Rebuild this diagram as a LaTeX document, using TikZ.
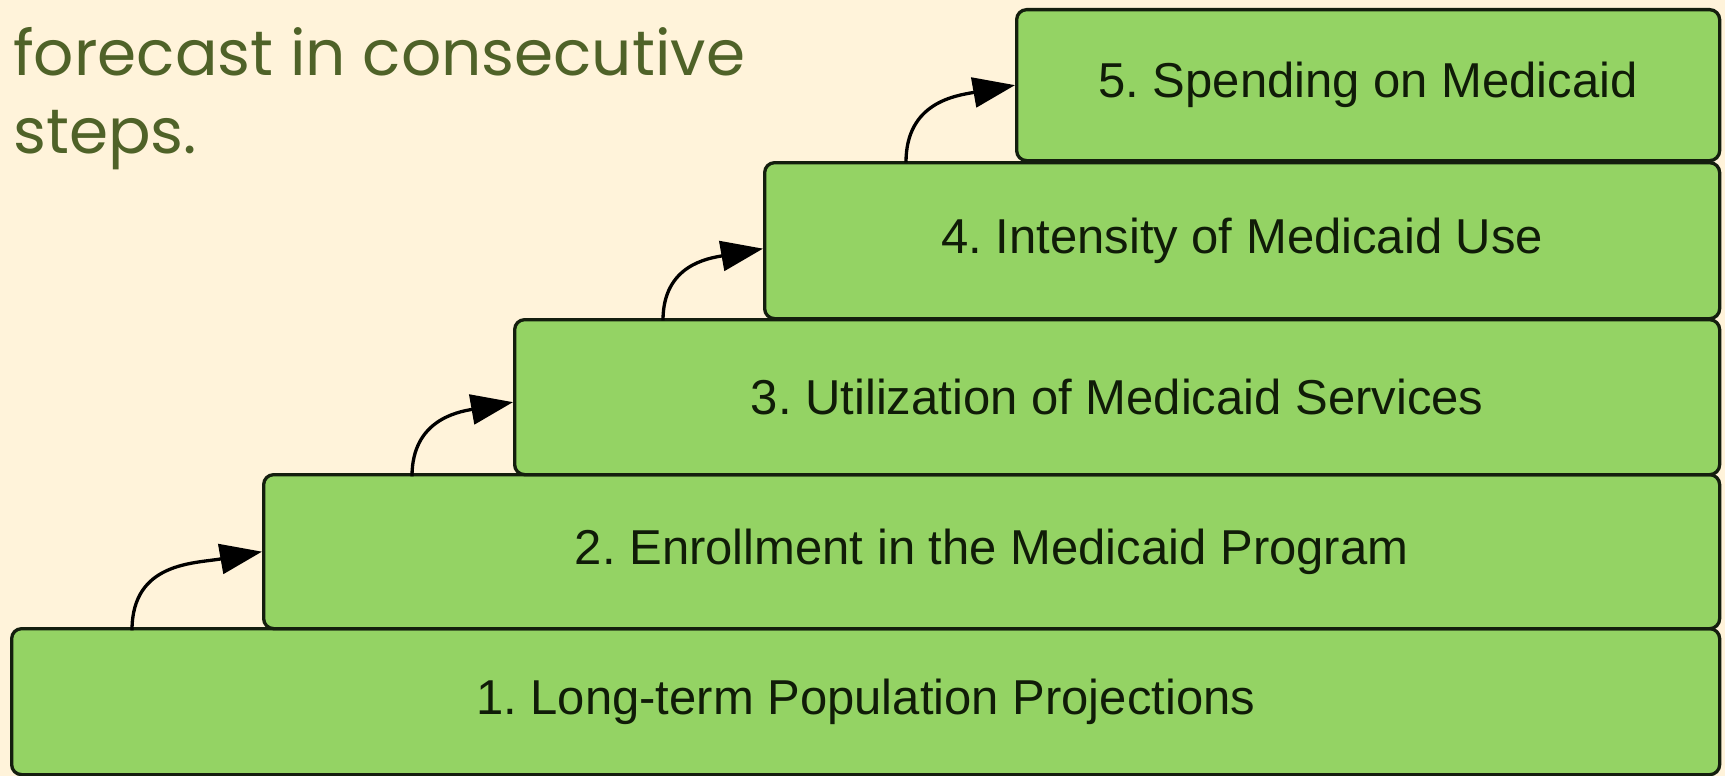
\documentclass[tikz,border=0pt]{standalone}
\usepackage{fontspec}
\setmainfont{Liberation Sans}
\newfontfamily\titlefont{Poppins}
\usetikzlibrary{arrows.meta}
\definecolor{bgcol}{RGB}{255,243,218}
\definecolor{boxfill}{RGB}{148,211,100}
\definecolor{boxline}{RGB}{20,30,14}
\definecolor{titlecol}{RGB}{79,98,40}
\definecolor{boxtext}{RGB}{16,28,8}
\frenchspacing
\tikzset{
  stepbox/.style={draw=boxline, fill=boxfill, line width=3.3pt, rounded corners=10pt,
    anchor=north west, inner sep=0pt, text=boxtext,
    font=\fontsize{49}{55}\selectfont},
  titletext/.style={anchor=base west, inner sep=0pt, text=titlecol,
    font=\titlefont\fontsize{63}{78}\selectfont},
  steparrow/.style={draw=black, line width=3.3pt, looseness=1.15,
    -{Triangle[length=42pt,width=30pt]}}
}
\begin{document}
\begin{tikzpicture}[x=1pt,y=-1pt]
\path[fill=bgcol] (0,0) rectangle (1725,776);
\useasboundingbox (0,0) rectangle (1725,776);
\node[titletext] (t1) at (13,75) {forecast in consecutive};
\node[titletext] (t2) at (13,153) {steps.};
\node[stepbox, minimum width=1708pt, minimum height=146pt] (b1) at (10,627) {1. Long-term Population Projections};
\node[stepbox, minimum width=1456pt, minimum height=154pt] (b2) at (262,473) {2. Enrollment in the Medicaid Program};
\node[stepbox, minimum width=1205pt, minimum height=155pt] (b3) at (513,318) {3. Utilization of Medicaid Services};
\node[stepbox, minimum width=955pt, minimum height=156pt] (b4) at (763,161) {4. Intensity of Medicaid Use};
\node[stepbox, minimum width=703pt, minimum height=151pt] (b5) at (1015,8) {5. Spending on Medicaid};
\draw[steparrow] ([xshift=-130pt]b2.south west) to[out=90,in=190] (b2.west);
\draw[steparrow] ([xshift=-101pt]b3.south west) to[out=90,in=190] ([yshift=-5pt]b3.west);
\draw[steparrow] ([xshift=-100pt]b4.south west) to[out=90,in=190] ([yshift=-8pt]b4.west);
\draw[steparrow] ([xshift=-109pt]b5.south west) to[out=90,in=190] (b5.west);
\end{tikzpicture}
\end{document}
